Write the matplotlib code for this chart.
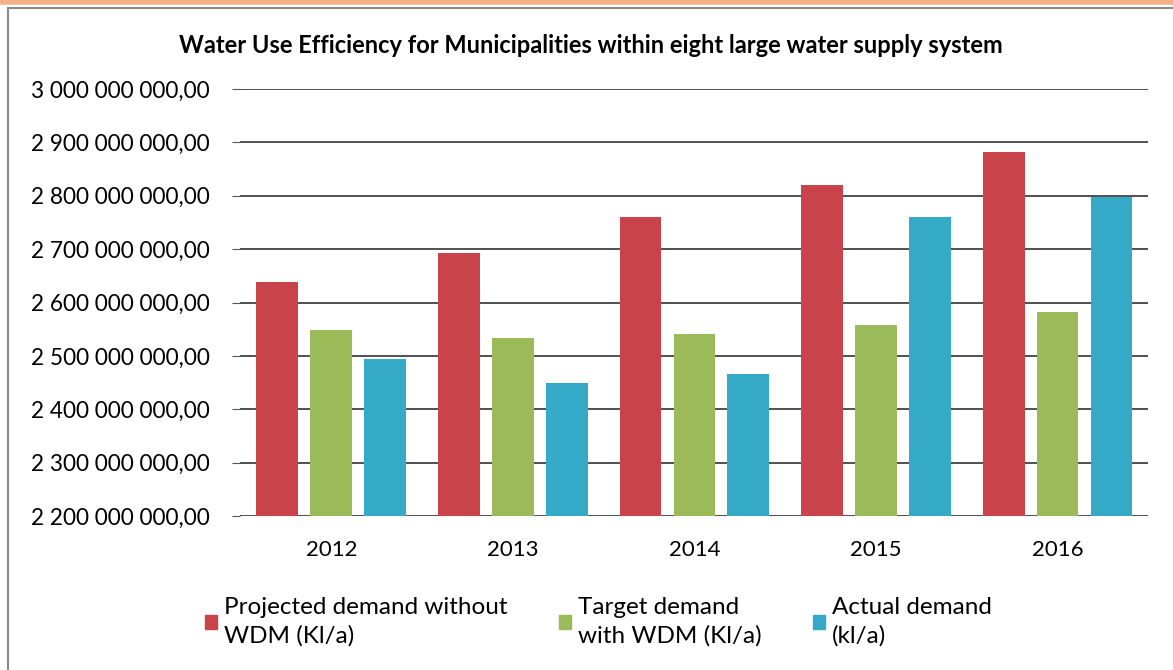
import matplotlib.pyplot as plt
import numpy as np
from matplotlib.patches import Rectangle
from matplotlib.lines import Line2D

years = ['2012', '2013', '2014', '2015', '2016']
projected = [2638e6, 2693e6, 2760e6, 2820e6, 2882e6]
target = [2548e6, 2533e6, 2541e6, 2558e6, 2582e6]
actual = [2494e6, 2449e6, 2466e6, 2760e6, 2797e6]
labels = ['Projected demand without\nWDM (Kl/a)', 'Target demand\nwith WDM (Kl/a)', 'Actual demand\n(kl/a)']
colors = ['#C9434A', '#9BBB59', '#35AAC6']

plt.rcParams['font.family'] = ['Lato', 'DejaVu Sans']

fig = plt.figure(figsize=(11.73, 6.70), dpi=100)
ax = fig.add_axes([0.205, 0.23, 0.774, 0.637])

x = np.arange(len(years))
w = 0.23
step = 0.297
for i, (vals, c) in enumerate(zip([projected, target, actual], colors)):
    ax.bar(x + (i - 1) * step, vals, width=w, color=c, zorder=3)

ticks = np.arange(2.2e9, 3.01e9, 1e8)
ax.set_ylim(2.2e9, 3.0e9)
ax.set_xlim(-0.5, 4.5)
ax.set_yticks(ticks)
ax.set_yticklabels(['{:,.2f}'.format(v).replace(',', ' ').replace('.', ',') for v in ticks])
ax.set_xticks(x)
ax.set_xticklabels(years)
ax.tick_params(axis='y', length=6, color='#555555', labelsize=16.3, pad=16)
ax.tick_params(axis='x', length=0, labelsize=16, pad=17)
ax.grid(axis='y', color='#505050', linewidth=1.4, zorder=1)
for s in ax.spines.values():
    s.set_visible(False)

fig.text(0.504, 0.932, 'Water Use Efficiency for Municipalities within eight large water supply system',
         fontsize=17, fontweight='bold', ha='center', va='center')

handles = [Rectangle((0, 0), 1, 1, color=c) for c in colors]
fig.legend(handles, labels, loc='center', bbox_to_anchor=(0.51, 0.072), ncol=3, frameon=False,
           fontsize=17.5, handlelength=0.5, handleheight=0.5, handletextpad=0.3, columnspacing=2.1,
           labelspacing=0.2)
for t in fig.legends[0].get_texts():
    t.set_linespacing(1.4)

# outer frame and orange top line
fig.add_artist(Rectangle((0.007, -0.01), 1.0, 0.998, transform=fig.transFigure, fill=False,
                         edgecolor='#8a8a8a', linewidth=1.5))
fig.add_artist(Line2D([0, 1], [0.997, 0.997], transform=fig.transFigure, color='#F4B183', linewidth=4))

fig.savefig('out.png', dpi=100)
